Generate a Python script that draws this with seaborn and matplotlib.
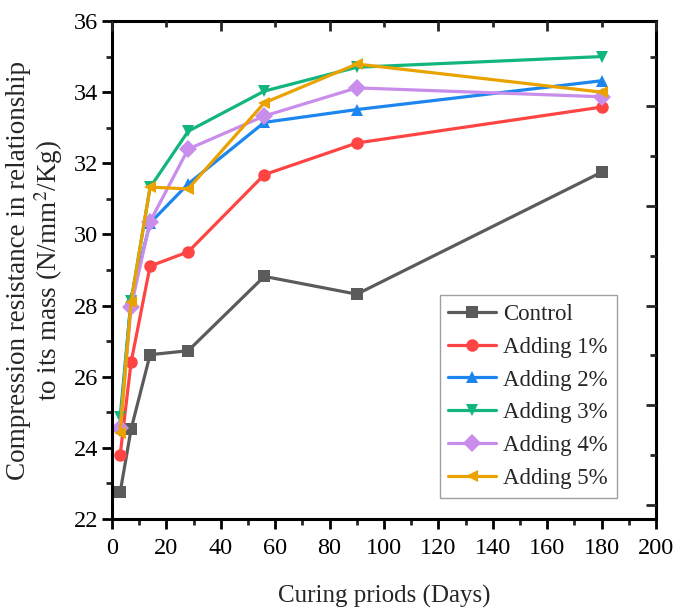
import numpy as np
import pandas as pd
import matplotlib
matplotlib.use("Agg")
import matplotlib.pyplot as plt
import seaborn as sns
from matplotlib.ticker import MultipleLocator

days = [3, 7, 14, 28, 56, 90, 180]
control = [22.75, 24.52, 26.62, 26.73, 28.82, 28.32, 31.75]
add1 = [23.80, 26.40, 29.11, 29.51, 31.68, 32.57, 33.58]
add2 = [24.62, 28.20, 30.32, 31.42, 33.15, 33.51, 34.32]
add3 = [24.88, 28.12, 31.32, 32.90, 34.03, 34.70, 35.00]
add4 = [24.55, 27.96, 30.36, 32.40, 33.33, 34.12, 33.87]
add5 = [24.42, 28.10, 31.33, 31.28, 33.70, 34.79, 34.00]

series_names = ["Control", "Adding 1%", "Adding 2%", "Adding 3%", "Adding 4%", "Adding 5%"]
series_vals = [control, add1, add2, add3, add4, add5]

colors = ["#5b5b5b", "#ff4444", "#1c86ee", "#12b57c", "#c98deb", "#e9a200"]
markers = ["s", "o", "^", "v", "D", "<"]

rows = []
for name, vals in zip(series_names, series_vals):
    for d, v in zip(days, vals):
        rows.append({"Days": d, "Value": v, "Series": name})
df = pd.DataFrame(rows)

sns.set_style("white")
plt.rcParams["font.family"] = ["Liberation Serif", "DejaVu Serif"]
plt.rcParams["mathtext.fontset"] = "stix"

fig = plt.figure(figsize=(6.89, 6.09), dpi=100)
ax = fig.add_axes([112/689, 1 - 519/609, (656 - 112)/689, (519 - 21)/609])

sns.lineplot(data=df, x="Days", y="Value", hue="Series", style="Series",
             hue_order=series_names, style_order=series_names,
             palette=dict(zip(series_names, colors)),
             markers=dict(zip(series_names, markers)), dashes=False,
             linewidth=2.3, markersize=9, markeredgewidth=0, ax=ax)

ax.set_xlim(0, 200)
ax.set_ylim(22, 36)
ax.xaxis.set_major_locator(MultipleLocator(20))
ax.xaxis.set_minor_locator(MultipleLocator(10))
ax.yaxis.set_major_locator(MultipleLocator(2))
ax.yaxis.set_minor_locator(MultipleLocator(1))

for s in ax.spines.values():
    s.set_visible(True)
    s.set_color("black")
    s.set_linewidth(2.2)

ax.tick_params(axis="both", which="major", direction="out", length=7, width=2,
               labelsize=17.5, color="black", labelcolor="black",
               bottom=True, left=True, top=False, right=False)
ax.tick_params(axis="x", which="major", pad=7)
ax.tick_params(axis="y", which="major", pad=3)
ax.tick_params(axis="both", which="minor", direction="out", length=4, width=2,
               bottom=True, left=True, top=False, right=False)

# mirrored top/right ticks (inward)
axt = ax.twiny()
axt.set_xlim(0, 200)
axt.xaxis.set_major_locator(MultipleLocator(40))
axt.xaxis.set_minor_locator(MultipleLocator(20))
axt.tick_params(axis="x", which="major", direction="in", length=7, width=2, labeltop=False, top=True)
axt.tick_params(axis="x", which="minor", direction="in", length=4, width=2, top=True)
axr = ax.twinx()
axr.set_ylim(22, 36)
axr.yaxis.set_major_locator(MultipleLocator(2.8))
axr.yaxis.set_minor_locator(MultipleLocator(1.4))
axr.tick_params(axis="y", which="major", direction="in", length=7, width=2, labelright=False, right=True)
axr.tick_params(axis="y", which="minor", direction="in", length=4, width=2, right=True)
for a in (axt, axr):
    for s in a.spines.values():
        s.set_visible(False)

ax.set_xlabel("Curing priods (Days)", fontsize=18, labelpad=18)
ax.set_ylabel("Compression resistance in relationship\nto its mass (N/mm$^2$/Kg)",
              fontsize=19.5, labelpad=6, linespacing=1.05)

handles, labels = ax.get_legend_handles_labels()
leg = ax.legend(handles, labels, loc="lower right", bbox_to_anchor=(0.928, 0.042),
                fontsize=16.5, frameon=True, fancybox=False, edgecolor="#888888",
                handlelength=2.1, handletextpad=0.3, labelspacing=0.52,
                borderpad=0.38, borderaxespad=0)
leg.get_frame().set_linewidth(1.0)

fig.savefig("out.png", dpi=100, facecolor="white")
